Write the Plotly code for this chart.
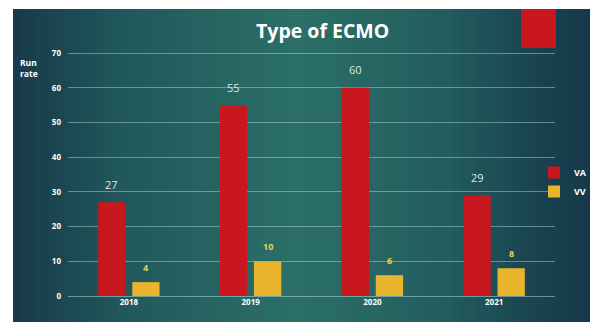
import plotly.graph_objects as go

years = ["2018", "2019", "2020", "2021"]
va = [27, 55, 60, 29]
vv = [4, 10, 6, 8]
y_ticks = [0, 10, 20, 30, 40, 50, 60, 70]

W, H = 598, 322
OFF = 8  # page body margin offset
# plot-area edges in reference-pixel coordinates
PX0, PX1, PY0, PY1 = 68, 555, 52, 296
L, R, T, B = PX0 - OFF, W - (PX1 - OFF), PY0 - OFF, H - (PY1 - OFF)
pw, ph = PX1 - PX0, PY1 - PY0

def px_x(px):
    return (px - PX0) / pw

def px_y(py):
    return (PY1 - py) / ph

fig = go.Figure()
fig.add_trace(go.Bar(x=years, y=va, name="VA", marker=dict(color="#c8171e", line=dict(width=0))))
fig.add_trace(go.Bar(x=years, y=vv, name="VV", marker=dict(color="#e9b52c", line=dict(width=0))))

# background gradient (decoration)
stops = [(13, (24, 58, 74)), (120, (33, 88, 92)), (300, (44, 112, 104)), (450, (34, 92, 94)),
         (540, (26, 66, 80)), (610, (21, 54, 72))]
shapes = []
n = 80
x0p, x1p = 13, 610
for i in range(n):
    a = x0p + (x1p - x0p) * i / n
    b = x0p + (x1p - x0p) * (i + 1) / n
    m = (a + b) / 2
    for j in range(len(stops) - 1):
        if stops[j][0] <= m <= stops[j + 1][0]:
            t = (m - stops[j][0]) / (stops[j + 1][0] - stops[j][0])
            c = tuple(int(stops[j][1][k] + t * (stops[j + 1][1][k] - stops[j][1][k])) for k in range(3))
            break
    shapes.append(dict(type="rect", xref="paper", yref="paper", x0=px_x(a), x1=px_x(b) + 0.002,
                       y0=px_y(335), y1=px_y(9), fillcolor="rgb(%d,%d,%d)" % c, line=dict(width=0),
                       layer="below"))
# red decorative block top right
shapes.append(dict(type="rect", xref="paper", yref="paper", x0=px_x(521), x1=px_x(556),
                   y0=px_y(48), y1=px_y(9), fillcolor="#c8171e", line=dict(width=0), layer="above"))

annotations = [
    dict(text="<b>Type of ECMO</b>", xref="paper", yref="paper", x=px_x(322), y=px_y(30),
         xanchor="center", yanchor="middle",
         showarrow=False, font=dict(size=19.5, color="white", family="Open Sans")),
    dict(text="<b>Run<br>rate</b>", xref="paper", yref="paper", x=px_x(18), y=px_y(68),
         xanchor="left", yanchor="middle",
         showarrow=False, align="left", font=dict(size=8.5, color="white", family="Open Sans")),
]
for i, v in enumerate(va):
    annotations.append(dict(x=i, y=v, text=str(v), showarrow=False, xshift=-17, yshift=18,
                            font=dict(size=11, color="#dde6e6", family="Open Sans")))
for i, v in enumerate(vv):
    annotations.append(dict(x=i, y=v, text="<b>%d</b>" % v, showarrow=False, xshift=17, yshift=15,
                            font=dict(size=9, color="#e9d548", family="Open Sans")))

fig.update_layout(
    width=W, height=H,
    margin=dict(l=L, r=R, t=T, b=B),
    paper_bgcolor="white", plot_bgcolor="rgba(0,0,0,0)",
    barmode="group", bargap=0.44, bargroupgap=0.2,
    shapes=shapes, annotations=annotations,
    font=dict(family="Open Sans", color="white"),
    showlegend=True,
    legend=dict(x=px_x(534), y=px_y(158), xanchor="left", yanchor="top",
                bgcolor="rgba(0,0,0,0)",
                font=dict(size=9, color="white", family="Open Sans", weight="bold"),
                itemwidth=30, tracegroupgap=2),
    xaxis=dict(type="category", range=[-0.5, len(years) - 0.5], showgrid=False, showline=False,
               ticks="", zeroline=False, tickfont=dict(size=8, color="white", weight="bold"),
               fixedrange=True),
    yaxis=dict(range=[0, 70.3], tickvals=y_ticks, showgrid=True, gridcolor="rgba(190,225,225,0.45)",
               gridwidth=1, zeroline=True, zerolinecolor="rgba(190,225,225,0.5)", zerolinewidth=1,
               showline=False, ticks="", tickfont=dict(size=8, color="white", weight="bold"),
               ticklabelstandoff=6, fixedrange=True),
)
fig.write_html("out.html")
